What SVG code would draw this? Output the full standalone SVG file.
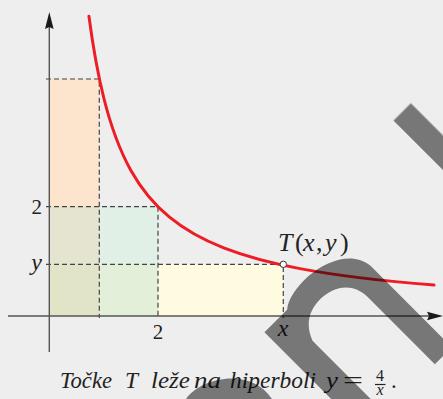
<svg xmlns="http://www.w3.org/2000/svg" width="443" height="399" viewBox="0 0 443 399">
<defs>
<style>
.dash{stroke:#444;stroke-width:1.2;stroke-dasharray:5 3;fill:none}
.axis{stroke:#555;stroke-width:1.4;fill:none}
</style>
</defs>
<rect width="443" height="399" fill="#eeeeee"/>
<g id="regions">
<rect x="49.3" y="79" width="50" height="127.7" fill="#fde4cc"/>
<rect x="49.3" y="206.7" width="50" height="57.6" fill="#e4e4d0"/>
<rect x="49.3" y="264.3" width="50" height="51.7" fill="#e2e4c8"/>
<rect x="99.3" y="206.7" width="58.7" height="57.6" fill="#e1f0e7"/>
<rect x="99.3" y="264.3" width="58.7" height="51.7" fill="#e3efd8"/>
<rect x="158" y="264.3" width="125.3" height="51.7" fill="#fffbe1"/>
</g>
<g id="connectors">
<path class="dash" d="M46,79H99.3V318"/>
<path class="dash" d="M46,206.7H158V318"/>
<path class="dash" d="M46,264.3H283.3V318"/>
</g>
<g id="axes">
<line class="axis" x1="49.3" y1="26" x2="49.3" y2="352"/>
<line class="axis" x1="8" y1="316" x2="430" y2="316"/>
<path d="M49.3,12L53.6,29L49.3,27L45,29Z" fill="#1a1a1a"/>
<path d="M443,316L427,311.8L429,316L427,320.2Z" fill="#1a1a1a"/>
</g>
<g id="curve">
<path d="M88.92,16.14C93.88,53.68 98.84,78.16 103.8,98C112.88,134.33 121.97,154.52 131.05,170.67C143.77,193.28 156.48,206.4 169.2,216.91C187.37,231.92 205.53,240.78 223.7,247.88C249.13,257.81 274.57,263.8 300,268.61C344.69,277.06 389.38,281.53 434.07,285.12" fill="none" stroke="#ee1c25" stroke-width="3" stroke-linecap="round"/>
</g>
<g id="point-T">
<circle cx="283.3" cy="264.3" r="3.2" fill="#fff" stroke="#333" stroke-width="1"/>
</g>
<g id="labels" font-family="'Liberation Serif', 'Times New Roman', serif" fill="#222">
<text x="42" y="214" font-size="21" text-anchor="end">2</text>
<text x="42" y="270" font-size="24" font-style="italic" text-anchor="end">y</text>
<text x="158" y="339" font-size="21" text-anchor="middle">2</text>
<text x="283" y="336" font-size="24" font-style="italic" text-anchor="middle">x</text>
<text font-size="26" y="251" font-style="italic"><tspan x="278">T</tspan><tspan x="295" font-style="normal">(</tspan><tspan x="303">x</tspan><tspan x="316" font-style="normal">,</tspan><tspan x="325">y</tspan><tspan x="340" font-style="normal">)</tspan></text>
</g>
<g id="caption" font-family="'Liberation Serif', 'Times New Roman', serif" fill="#222" font-size="23" font-style="italic">
<text x="60" y="388" textLength="52" lengthAdjust="spacingAndGlyphs">Točke</text>
<text x="125" y="388" textLength="13" lengthAdjust="spacingAndGlyphs">T</text>
<text x="151" y="388" textLength="39" lengthAdjust="spacingAndGlyphs">leže</text>
<text x="194" y="388" textLength="27" lengthAdjust="spacingAndGlyphs">na</text>
<text x="230" y="388" textLength="86" lengthAdjust="spacingAndGlyphs">hiperboli</text>
<text x="326" y="388" textLength="12" lengthAdjust="spacingAndGlyphs">y</text>
<text x="343" y="388" font-style="normal" textLength="20" lengthAdjust="spacingAndGlyphs">=</text>
<text x="391" y="388" font-style="normal">.</text>
<text x="380" y="381" font-size="16" font-style="normal" text-anchor="middle">4</text>
<line x1="375" y1="384.5" x2="385.5" y2="384.5" stroke="#222" stroke-width="1.2"/>
<text x="380" y="395" font-size="16" text-anchor="middle">x</text>
</g>
<g id="watermark" opacity="0.5" fill="#000">
<path transform="matrix(0.7071,0.7071,0.7071,-0.7071,0,0)" d="M363.5,193L363.5,217.4L470,217.4L470,193Z"/>
<path transform="matrix(0.7071,0.7071,0.7071,-0.7071,0,0)" d="M700,-48L422,-48L422,-16C405,5 412,70 450,74L565,74L565,50L470,50C450,50 438,35 438,15C438,-2 446,-14 462,-20L700,-20Z"/>
<path d="M186,399C200,378 250,366 272,399Z"/>
</g>
</svg>
